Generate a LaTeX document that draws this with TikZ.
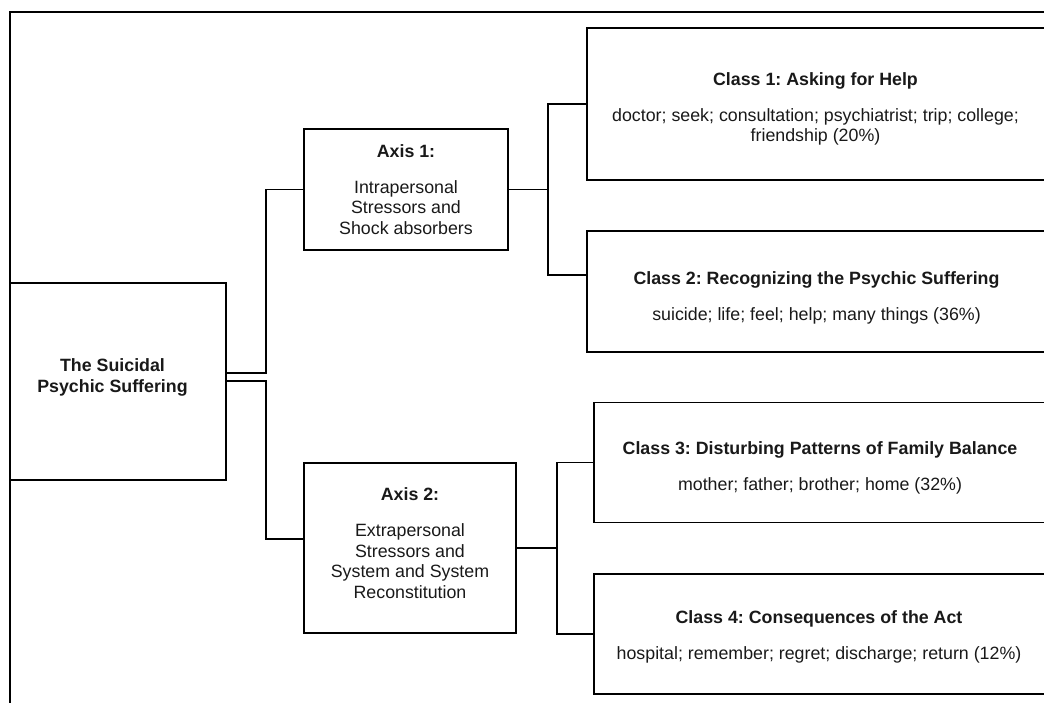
\documentclass[tikz,border=0pt]{standalone}
\usepackage{fontspec}
\setmainfont{Liberation Sans}
\frenchspacing
\begin{document}
\begin{tikzpicture}[x=1pt,y=-1pt,
  box/.style={draw=black,line width=1.9pt,rectangle,inner sep=0pt},
  txt/.style={inner sep=0pt,align=center,
    font=\fontsize{17.8}{20.5}\selectfont,text=black!90},
  conn/.style={draw=black,line width=1.9pt},
  frame/.style={draw=black,line width=1.9pt}]
\useasboundingbox (0,0) rectangle (1044,702);
\draw[frame] (10,710) -- (10,12) -- (1052,12);
% boxes
\node[box,minimum width=216pt,minimum height=197pt] (main) at (118,381.5) {};
\node[box,minimum width=204pt,minimum height=121pt] (ax1) at (406,189.5) {};
\node[box,minimum width=212pt,minimum height=170pt] (ax2) at (410,548) {};
\node[box,minimum width=461pt,minimum height=152pt] (c1) at (817.5,104) {};
\node[box,minimum width=461pt,minimum height=121pt] (c2) at (817.5,291.5) {};
\node[box,minimum width=454pt,minimum height=120pt] (c3) at (821,462.5) {};
\node[box,minimum width=454pt,minimum height=120pt] (c4) at (821,634) {};
% texts
\node[txt] (tmain) at ([xshift=-5.5pt,yshift=4pt]main.center)
  {\bfseries The Suicidal\\\bfseries Psychic Suffering};
\node[txt] (tax1) at (ax1.center)
  {\bfseries Axis 1:\\[15.5pt]Intrapersonal\\Stressors and\\Shock absorbers};
\node[txt] (tax2) at ([yshift=5pt]ax2.center)
  {\bfseries Axis 2:\\[15.5pt]Extrapersonal\\Stressors and\\System and System\\Reconstitution};
\node[txt] (tc1) at ([xshift=-2pt,yshift=-5pt]c1.center)
  {\bfseries Class 1: Asking for Help\\[15.5pt]doctor; seek; consultation; psychiatrist; trip; college;\\friendship (20\%)};
\node[txt] (tc2) at ([xshift=-1pt,yshift=-6pt]c2.center)
  {\bfseries Class 2: Recognizing the Psychic Suffering\\[15.5pt]suicide; life; feel; help; many things (36\%)};
\node[txt] (tc3) at ([xshift=-1pt,yshift=-5pt]c3.center)
  {\bfseries Class 3: Disturbing Patterns of Family Balance\\[15.5pt]mother; father; brother; home (32\%)};
\node[txt] (tc4) at ([xshift=-2pt,yshift=-3pt]c4.center)
  {\bfseries Class 4: Consequences of the Act\\[15.5pt]hospital; remember; regret; discharge; return (12\%)};
% connectors
\draw[conn] ([yshift=8.5pt]main.east) -- ++(39,0) |- (ax1.west);
\draw[conn] ([yshift=0.5pt]main.east) -- ++(39,0) |- ([yshift=9pt]ax2.west);
\draw[conn] (ax1.east) -- ++(39,0) coordinate (j1);
\draw[conn] (j1) |- (c1.west);
\draw[conn] (j1) |- ([yshift=16.5pt]c2.west);
\draw[conn] (ax2.east) -- ++(40,0) coordinate (j2);
\draw[conn] (j2) |- (c3.west);
\draw[conn] (j2) |- (c4.west);
\end{tikzpicture}
\end{document}
